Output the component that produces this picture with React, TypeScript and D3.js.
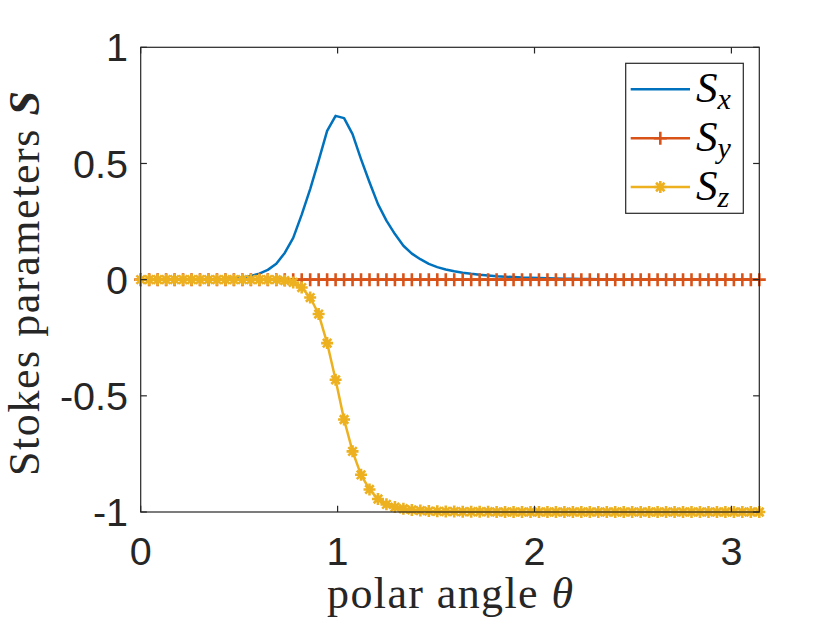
import React from "react";
import * as d3 from "d3";

// polar angle samples (rad)
const theta = [
  0, 0.043, 0.0861, 0.1291, 0.1721, 0.2152, 0.2582, 0.3012, 0.3443, 0.3873,
  0.4304, 0.4734, 0.5164, 0.5595, 0.6025, 0.6455, 0.6886, 0.7316, 0.7746, 0.8177,
  0.8607, 0.9037, 0.9468, 0.9898, 1.0328, 1.0759, 1.1189, 1.162, 1.205, 1.248,
  1.2911, 1.3341, 1.3771, 1.4202, 1.4632, 1.5062, 1.5493, 1.5923, 1.6353, 1.6784,
  1.7214, 1.7644, 1.8075, 1.8505, 1.8936, 1.9366, 1.9796, 2.0227, 2.0657, 2.1087,
  2.1518, 2.1948, 2.2378, 2.2809, 2.3239, 2.3669, 2.41, 2.453, 2.496, 2.5391,
  2.5821, 2.6251, 2.6682, 2.7112, 2.7543, 2.7973, 2.8403, 2.8834, 2.9264, 2.9694,
  3.0125, 3.0555, 3.0985, 3.1416,
];

const Sx = [
  0, 0, 0, 0, 0, 0, 0, 0, 0.001, 0.002,
  0.003, 0.005, 0.009, 0.016, 0.026, 0.042, 0.068, 0.115, 0.18, 0.28,
  0.39, 0.512, 0.64, 0.705, 0.695, 0.626, 0.519, 0.419, 0.325, 0.254,
  0.196, 0.146, 0.112, 0.088, 0.068, 0.054, 0.044, 0.036, 0.03, 0.025,
  0.021, 0.018, 0.015, 0.013, 0.011, 0.009, 0.008, 0.007, 0.006, 0.005,
  0.004, 0.004, 0.003, 0.003, 0.002, 0.002, 0.001, 0.001, 0.001, 0.001,
  0.001, 0, 0, 0, 0, 0, 0, 0, 0, 0,
  0, 0, 0, 0,
];

const Sy = [
  0, 0, 0, 0, 0, 0, 0, 0, 0, 0,
  0, 0, 0, 0, 0, 0, 0, 0, 0, 0,
  0, 0, 0, 0, 0, 0, 0, 0, 0, 0,
  0, 0, 0, 0, 0, 0, 0, 0, 0, 0,
  0, 0, 0, 0, 0, 0, 0, 0, 0, 0,
  0, 0, 0, 0, 0, 0, 0, 0, 0, 0,
  0, 0, 0, 0, 0, 0, 0, 0, 0, 0,
  0, 0, 0, 0,
];

const Sz = [
  0, 0, 0, 0, 0, 0, 0, 0, 0, 0,
  0, 0, 0, 0, 0, 0, 0, -0.004, -0.012, -0.034,
  -0.077, -0.148, -0.273, -0.431, -0.602, -0.739, -0.84, -0.903, -0.944, -0.967,
  -0.979, -0.986, -0.991, -0.994, -0.996, -0.997, -0.998, -0.998, -0.999, -0.999,
  -0.999, -0.999, -1, -1, -1, -1, -1, -1, -1, -1,
  -1, -1, -1, -1, -1, -1, -1, -1, -1, -1,
  -1, -1, -1, -1, -1, -1, -1, -1, -1, -1,
  -1, -1, -1, -1,
];

const xTicks = [0, 1, 2, 3];
const xTickLabels = ["0", "1", "2", "3"];
const yTicks = [-1, -0.5, 0, 0.5, 1];
const yTickLabels = ["-1", "-0.5", "0", "0.5", "1"];

const seriesNames = ["x", "y", "z"];
const colors = ["#0072BD", "#D95319", "#EDB120"];

const W = 840;
const H = 630;
const L = 140.7;
const R = 759.3;
const T = 47.3;
const B = 512;
const axisColor = "#262626";
const tickFont = "Liberation Sans";
const serifFont = "Liberation Serif";
const tickFs = 39.5;

const plusPath = (r: number) => `M${-r},0L${r},0M0,${-r}L0,${r}`;
const starPath = (r: number) => {
  const d = r * 0.707;
  return `M${-r},0L${r},0M0,${-r}L0,${r}M${-d},${-d}L${d},${d}M${-d},${d}L${d},${-d}`;
};

export default function App() {
  const x = d3.scaleLinear().domain([0, Math.PI]).range([L, R]);
  const y = d3.scaleLinear().domain([-1, 1]).range([B, T]);
  const line = d3
    .line<number>()
    .x((_, i) => x(theta[i]))
    .y((d) => y(d));

  const tickLen = 6.2;
  const series = [Sx, Sy, Sz];
  const markers = [null, plusPath(6.5), starPath(6)];

  const legX0 = 625.7;
  const legY0 = 63.3;
  const legW = 117.6;
  const legH = 150;
  const rowY = [89.3, 138.3, 187];

  return (
    <div style={{ position: "fixed", left: 0, top: 0 }}>
      <svg width={W} height={H} viewBox={`0 0 ${W} ${H}`} style={{ display: "block", background: "#fff" }}>
        <rect x={0} y={0} width={W} height={H} fill="#fff" />
        {series.map((s, k) => (
          <g key={k}>
            <path d={line(s) || ""} fill="none" stroke={colors[k]} strokeWidth={2.5} strokeLinejoin="round" />
            {markers[k] &&
              s.map((v, i) => (
                <path
                  key={i}
                  d={markers[k] as string}
                  transform={`translate(${x(theta[i])},${y(v)})`}
                  fill="none"
                  stroke={colors[k]}
                  strokeWidth={2.6}
                />
              ))}
          </g>
        ))}
        <rect x={L} y={T} width={R - L} height={B - T} fill="none" stroke={axisColor} strokeWidth={1.2} />
        {xTicks.map((t, i) => (
          <g key={"xt" + i}>
            <line x1={x(t)} x2={x(t)} y1={B} y2={B - tickLen} stroke={axisColor} strokeWidth={1.2} />
            <line x1={x(t)} x2={x(t)} y1={T} y2={T + tickLen} stroke={axisColor} strokeWidth={1.2} />
            <text x={x(t)} y={565} textAnchor="middle" fontFamily={tickFont} fontSize={tickFs} fill={axisColor}>
              {xTickLabels[i]}
            </text>
          </g>
        ))}
        {yTicks.map((t, i) => (
          <g key={"yt" + i}>
            <line x1={L} x2={L + tickLen} y1={y(t)} y2={y(t)} stroke={axisColor} strokeWidth={1.2} />
            <line x1={R} x2={R - tickLen} y1={y(t)} y2={y(t)} stroke={axisColor} strokeWidth={1.2} />
            <text x={128} y={y(t) + 14.1} textAnchor="end" fontFamily={tickFont} fontSize={tickFs} fill={axisColor}>
              {yTickLabels[i]}
            </text>
          </g>
        ))}
        <text
          x={(L + R) / 2}
          y={608}
          textAnchor="middle"
          fontFamily={serifFont}
          fontSize={44}
          fill={axisColor}
          textLength={246}
        >
          polar angle <tspan fontStyle="italic">θ</tspan>
        </text>
        <text
          transform={`translate(39,${283.5}) rotate(-90)`}
          textAnchor="middle"
          fontFamily={serifFont}
          fontSize={44}
          fill={axisColor}
          textLength={385}
        >
          Stokes parameters <tspan fontStyle="italic" fontWeight="bold">S</tspan>
        </text>
        <rect x={legX0} y={legY0} width={legW} height={legH} fill="#fff" stroke={axisColor} strokeWidth={1.2} />
        {seriesNames.map((n, k) => (
          <g key={"lg" + k}>
            <line x1={630.7} x2={690} y1={rowY[k]} y2={rowY[k]} stroke={colors[k]} strokeWidth={2.5} />
            {markers[k] && (
              <path
                d={markers[k] as string}
                transform={`translate(660.3,${rowY[k]})`}
                fill="none"
                stroke={colors[k]}
                strokeWidth={2.6}
              />
            )}
            <text x={696} y={rowY[k] + 13} fontFamily={serifFont} fontSize={43} fontStyle="italic" fill="#000">
              S
              <tspan fontSize={30} dy={7}>
                {n}
              </tspan>
            </text>
          </g>
        ))}
      </svg>
    </div>
  );
}
